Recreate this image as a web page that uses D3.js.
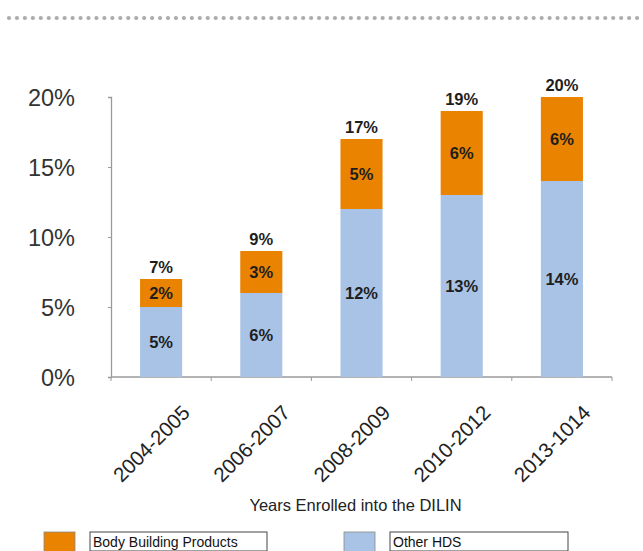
<!DOCTYPE html>
<html>
<head>
<meta charset="utf-8">
<script src="https://cdn.jsdelivr.net/npm/d3@7"></script>
<style>
  body { margin: 0; background: #fff; }
  svg { display: block; font-family: "Liberation Sans", Arial, Helvetica, sans-serif; }
</style>
</head>
<body>
<svg id="chart" width="643" height="551"></svg>
<script>
// data
var periods = ["2004-2005", "2006-2007", "2008-2009", "2010-2012", "2013-1014"];
var otherHds = [5, 6, 12, 13, 14];
var bodyBuilding = [2, 3, 5, 6, 6];
var totals = [7, 9, 17, 19, 20];
var yTicks = [0, 5, 10, 15, 20];
var seriesNames = ["Body Building Products", "Other HDS"];

var svg = d3.select("#chart"),
    margin = {top: 97, left: 111, right: 31, bottom: 174},
    width = +svg.attr("width") - margin.left - margin.right,
    height = +svg.attr("height") - margin.top - margin.bottom;

var colors = {bbp: "#e98300", other: "#a8c3e6"};

// dotted rule at the top
svg.append("g").selectAll("circle")
    .data(d3.range(0, 80))
    .enter().append("circle")
      .attr("cx", function(d) { return 9 + d * 7.95; })
      .attr("cy", 18)
      .attr("r", 2.1)
      .attr("fill", "#acacb0");

var g = svg.append("g").attr("transform", "translate(" + margin.left + "," + margin.top + ")");

var x = d3.scaleBand().domain(periods).range([0, width]).paddingInner(0.58).paddingOuter(0.29);
var xTickScale = d3.scaleLinear().domain([0, periods.length]).range([0, width]);
var y = d3.scaleLinear().domain([0, 20]).range([height, 0]);

var rows = periods.map(function(p, i) {
  return {period: p, other: otherHds[i], bbp: bodyBuilding[i], total: totals[i]};
});

// y axis
var yAxis = g.append("g")
    .call(d3.axisLeft(y).tickValues(yTicks).tickSize(3).tickFormat(function(d) { return d + "%"; }));
yAxis.select(".domain").attr("stroke", "#9a9a9a").attr("stroke-width", 1.3);
yAxis.selectAll(".tick line").attr("stroke", "#9a9a9a");
yAxis.selectAll(".tick text")
    .attr("x", -36)
    .attr("dy", "0.36em")
    .attr("font-size", 23.5)
    .attr("fill", "#333")
    .style("font-family", "'Liberation Sans', Arial, sans-serif");

// x axis line with ticks between categories
var xAxis = g.append("g").attr("transform", "translate(0," + height + ")");
xAxis.append("line")
    .attr("x1", 0).attr("x2", width)
    .attr("stroke", "#9a9a9a").attr("stroke-width", 1.3);
xAxis.selectAll(".xtick")
    .data(d3.range(0, periods.length + 1))
    .enter().append("line")
      .attr("class", "xtick")
      .attr("x1", function(d) { return xTickScale(d); })
      .attr("x2", function(d) { return xTickScale(d); })
      .attr("y1", 0).attr("y2", 4)
      .attr("stroke", "#9a9a9a");

// bars
var bars = g.selectAll(".bar").data(rows).enter().append("g").attr("class", "bar");

bars.append("rect")
    .attr("x", function(d) { return x(d.period); })
    .attr("y", function(d) { return y(d.other); })
    .attr("width", x.bandwidth())
    .attr("height", function(d) { return y(0) - y(d.other); })
    .attr("fill", colors.other);

bars.append("rect")
    .attr("x", function(d) { return x(d.period); })
    .attr("y", function(d) { return y(d.other + d.bbp); })
    .attr("width", x.bandwidth())
    .attr("height", function(d) { return y(d.other) - y(d.other + d.bbp); })
    .attr("fill", colors.bbp);

var labelStyle = function(sel) {
  sel.attr("text-anchor", "middle")
     .attr("font-size", 16.5)
     .attr("font-weight", "bold")
     .attr("fill", "#1e1e1e")
     .attr("dy", "0.36em");
};

bars.append("text")
    .attr("x", function(d) { return x(d.period) + x.bandwidth() / 2; })
    .attr("y", function(d) { return (y(0) + y(d.other)) / 2; })
    .text(function(d) { return d.other + "%"; })
    .call(labelStyle);

bars.append("text")
    .attr("x", function(d) { return x(d.period) + x.bandwidth() / 2; })
    .attr("y", function(d) { return (y(d.other) + y(d.other + d.bbp)) / 2; })
    .text(function(d) { return d.bbp + "%"; })
    .call(labelStyle);

bars.append("text")
    .attr("x", function(d) { return x(d.period) + x.bandwidth() / 2; })
    .attr("y", function(d) { return y(d.total) - 12; })
    .text(function(d) { return d.total + "%"; })
    .call(labelStyle);

// rotated category labels
g.selectAll(".xlabel").data(periods).enter().append("text")
    .attr("class", "xlabel")
    .attr("transform", function(d) {
      return "translate(" + (x(d) + x.bandwidth() / 2 + 30) + "," + (height + 37) + ") rotate(-45)";
    })
    .attr("text-anchor", "end")
    .attr("font-size", 20.5)
    .attr("fill", "#222")
    .text(function(d) { return d; });

g.append("text")
    .attr("x", width / 2 - 6)
    .attr("y", height + 134)
    .attr("text-anchor", "middle")
    .attr("font-size", 16.5)
    .attr("fill", "#222")
    .text("Years Enrolled into the DILIN");

// legend
var legend = svg.append("g").selectAll("g")
    .data(seriesNames)
    .enter().append("g")
      .attr("transform", function(d, i) { return "translate(" + (44 + i * 300) + ",532)"; });

legend.append("rect")
    .attr("width", 31).attr("height", 24)
    .attr("fill", function(d, i) { return i === 0 ? colors.bbp : colors.other; })
    .attr("stroke", "#888").attr("stroke-width", 0.8);

legend.append("rect")
    .attr("x", 46).attr("y", 0)
    .attr("width", function(d, i) { return i === 0 ? 177 : 178; })
    .attr("height", 19)
    .attr("fill", "#fff")
    .attr("stroke", "#444").attr("stroke-width", 1);

legend.append("text")
    .attr("x", 49).attr("y", 15)
    .attr("font-size", 14)
    .attr("fill", "#111")
    .text(function(d) { return d; });
</script>
</body>
</html>
